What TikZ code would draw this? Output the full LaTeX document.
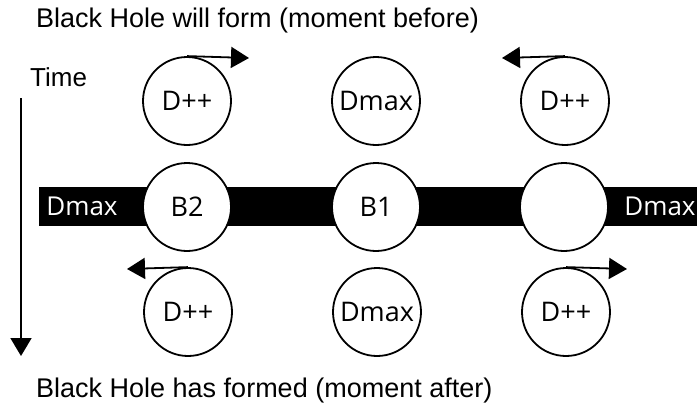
\documentclass[tikz,border=0pt]{standalone}
\usepackage{fontspec}
\setmainfont{Liberation Sans}
\newfontfamily\labelfont{Open Sans}
\usetikzlibrary{arrows.meta}
\begin{document}
\begin{tikzpicture}[x=1pt,y=-1pt,
  ball/.style={circle,draw=black,line width=1.8pt,fill=white,minimum size=88pt,inner sep=0pt,
    font=\labelfont\fontsize{27}{31}\selectfont},
  spin/.style={line width=1.8pt,-{Triangle[length=18pt,width=21pt]}},
  caption/.style={anchor=west,inner sep=0pt,font=\fontsize{27}{31}\selectfont},
  barlabel/.style={inner sep=0pt,text=white,font=\labelfont\fontsize{26}{30}\selectfont}]
  \useasboundingbox (0,0) rectangle (699,410);

  % black band of the horizon
  \fill[black] (39,187) rectangle (697,226);
  \node[barlabel] (dl) at (82,206) {Dmax};
  \node[barlabel] (dr) at (660,206) {Dmax};

  % before
  \node[ball] (t1) at (187,101) {D++};
  \node[ball] (t2) at (376,101) {Dmax};
  \node[ball] (t3) at (565,101) {D++};
  % at the horizon
  \node[ball] (m1) at (187,207) {B2};
  \node[ball] (m2) at (376,207) {B1};
  \node[ball] (m3) at (564,207) {};
  % after
  \node[ball] (b1) at (188,312) {D++};
  \node[ball] (b2) at (377,312) {Dmax};
  \node[ball] (b3) at (566,312) {D++};

  % spin arrows tangent to the tops
  \coordinate (t1e) at (249,58);
  \coordinate (t3e) at (502,58);
  \coordinate (b1e) at (127,269);
  \coordinate (b3e) at (627,269);
  \draw[spin] (t1.north) -- (t1e);
  \draw[spin] (t3.north) -- (t3e);
  \draw[spin] (b1.north) -- (b1e);
  \draw[spin] (b3.north) -- (b3e);

  % time axis
  \node[caption,font=\fontsize{26}{30}\selectfont] (time) at (30,77) {Time};
  \coordinate (ttop) at (21,98);
  \coordinate (tbot) at (21,356);
  \draw[spin] (ttop) -- (tbot);

  \node[caption] (before) at (36,21) {Black Hole will form (moment before)};
  \node[caption] (after) at (36,391) {Black Hole has formed (moment after)};
\end{tikzpicture}
\end{document}
